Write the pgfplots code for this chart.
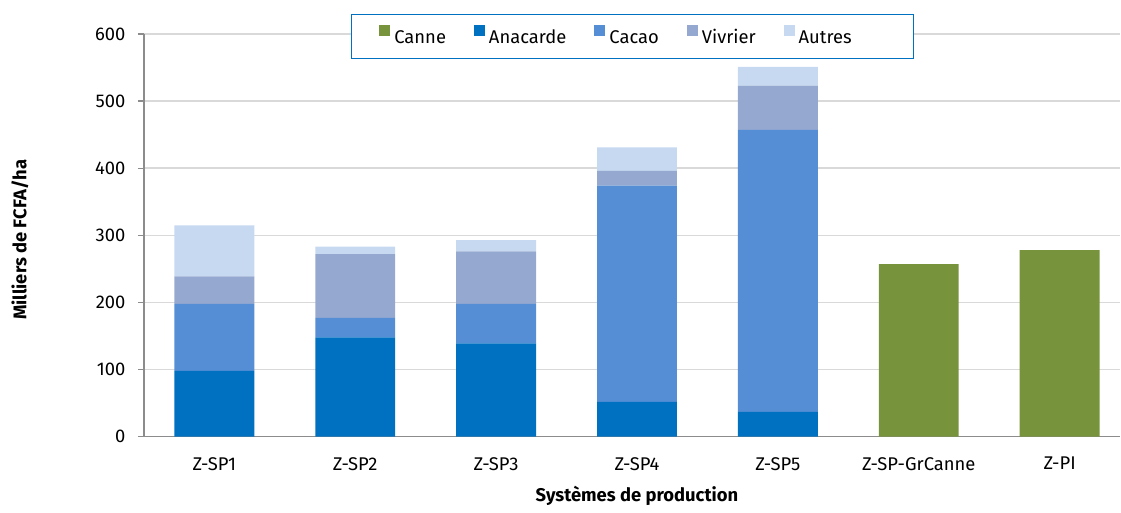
\documentclass[border=0pt]{standalone}
\usepackage{fontspec}
\setmainfont{Fira Sans}
\usepackage{pgfplots}
\pgfplotsset{compat=1.18}
\definecolor{canne}{HTML}{77933C}
\definecolor{anacarde}{HTML}{0070C0}
\definecolor{cacao}{HTML}{558ED5}
\definecolor{vivrier}{HTML}{95A9D0}
\definecolor{autres}{HTML}{C6D9F1}
\newcommand\ls{\rule[-1pt]{0pt}{9pt}}
\begin{document}
\fontsize{9.2}{11}\selectfont%
\begin{tikzpicture}
\begin{axis}[
  scale only axis, width=488.5pt, height=201.5pt,
  ybar stacked, bar width=0.567,
  xmin=-0.5, xmax=6.43, ymin=0, ymax=600,
  xtick={0,...,6},
  xticklabels={Z-SP1,Z-SP2,Z-SP3,Z-SP4,Z-SP5,Z-SP-GrCanne,Z-PI},
  ytick={0,100,...,600},
  /pgf/number format/assume math mode=true,
  axis x line*=bottom, axis y line*=left,
  axis line style={draw=black!45, line width=0.7pt, -},
  xtick style={draw=none},
  ytick style={draw=black!45, line width=0.7pt},
  tick align=outside, major tick length=3pt,
  ymajorgrids, grid style={draw=black!15, line width=0.8pt},
  xticklabel style={yshift=-4pt},
  yticklabel style={xshift=-3pt},
  xlabel={Systèmes de production},
  ylabel={Milliers de FCFA/ha},
  xlabel style={font=\bfseries, at={(axis description cs:0.505,-0.148)}, anchor=center},
  ylabel style={font=\bfseries, at={(axis description cs:-0.1269,0.489)}, anchor=center},
  legend style={at={(axis description cs:0.2119,1)}, anchor=west, yshift=-1.25pt,
    legend columns=5, draw=anacarde, line width=0.6pt, fill=white,
    inner xsep=14pt, inner ysep=4.5pt,
    /tikz/every even column/.append style={column sep=12pt}},
  legend cell align=left,
  legend image code/.code={\fill[#1] (0pt,0pt) rectangle (5.5pt,5.5pt);},
]
\addplot[fill=canne, draw=none] coordinates {(0,0) (1,0) (2,0) (3,0) (4,0) (5,257) (6,278)};
\addlegendentry{\ls Canne}
\addplot[fill=anacarde, draw=none] coordinates {(0,98) (1,148) (2,139) (3,52) (4,37) (5,0) (6,0)};
\addlegendentry{\ls Anacarde}
\addplot[fill=cacao, draw=none] coordinates {(0,100) (1,29) (2,59) (3,322) (4,420) (5,0) (6,0)};
\addlegendentry{\ls Cacao}
\addplot[fill=vivrier, draw=none] coordinates {(0,41) (1,95) (2,78) (3,22) (4,66) (5,0) (6,0)};
\addlegendentry{\ls Vivrier}
\addplot[fill=autres, draw=none] coordinates {(0,76) (1,11) (2,17) (3,35) (4,28) (5,0) (6,0)};
\addlegendentry{\ls Autres\hspace*{15pt}}
\end{axis}
\path (current axis.south west) ++(-72pt,-35pt) rectangle ([yshift=17pt]current axis.north east);
\end{tikzpicture}
\end{document}
